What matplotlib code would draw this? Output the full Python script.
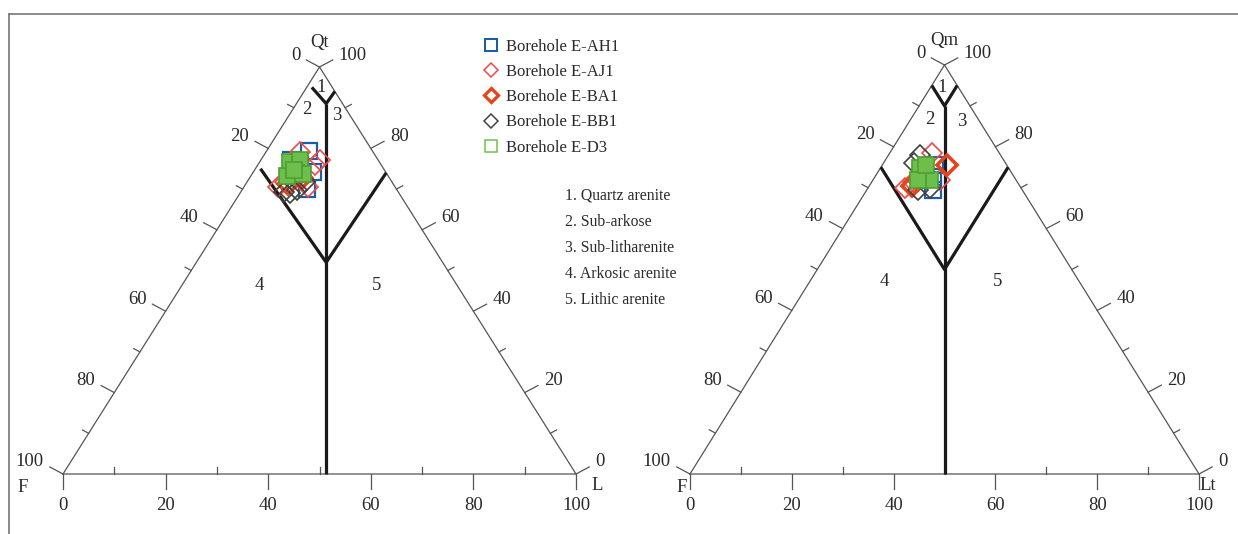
import numpy as np
import matplotlib
matplotlib.use('Agg')
import matplotlib.pyplot as plt
from matplotlib.lines import Line2D

plt.rcParams['font.family'] = ['Liberation Serif', 'DejaVu Serif']

# ternary data, percent (Q = quartz apex, L = lithic corner; F is the rest)
# left diagram: Qt-F-L
qfl_ah1_q = [79.4, 70.0, 77.1, 74.2, 75.9]
qfl_ah1_l = [8.3, 12.6, 5.9, 11.6, 8.3]
qfl_aj1_q = [70.5, 75.9, 70.5, 79.1, 71.7, 77.1]
qfl_aj1_l = [6.7, 11.2, 12.5, 6.7, 7.4, 11.5]
qfl_ba1_q = [71.3, 72.7, 74.2]
qfl_ba1_l = [8.2, 10.2, 8.1]
qfl_bb1_q = [69.0, 69.8, 69.4, 71.7]
qfl_bb1_l = [9.8, 10.7, 8.4, 11.3]
qfl_d3_q = [76.7, 77.1, 74.0, 73.2, 73.8, 74.6]
qfl_d3_l = [5.9, 7.6, 8.4, 7.1, 9.9, 7.7]

# right diagram: Qm-F-Lt
qmf_ah1_q = [75.6, 69.4, 72.5]
qmf_ah1_l = [10.3, 13.0, 11.5]
qmf_aj1_q = [69.9, 78.5, 71.4, 71.9]
qmf_aj1_l = [7.3, 8.3, 8.1, 13.2]
qmf_ba1_q = [75.6, 70.4]
qmf_ba1_l = [12.7, 8.4]
qmf_bb1_q = [78.0, 69.4, 76.0, 69.9]
qmf_bb1_l = [6.2, 10.1, 6.0, 12.2]
qmf_d3_q = [74.8, 72.0, 71.9, 75.6]
qmf_d3_l = [7.8, 11.2, 8.9, 8.6]

boreholes = ['Borehole E-AH1', 'Borehole E-AJ1', 'Borehole E-BA1',
             'Borehole E-BB1', 'Borehole E-D3']
classes = ['1. Quartz arenite', '2. Sub-arkose', '3. Sub-litharenite',
           '4. Arkosic arenite', '5. Lithic arenite']

# classification field boundaries (Q, L) in percent
left_fields = [
    [(0, 51.3), (91, 5.8)],
    [(95, 1.0), (91, 5.8), (94, 6.0)],
    [(75, 1.0), (52, 25.3), (74, 26.0)],
]
right_fields = [
    [(0, 50.0), (90, 5.0)],
    [(95, 0.0), (90, 5.0), (95, 5.0)],
    [(75, 0.0), (50, 25.0), (75, 25.0)],
]

tick_vals = list(range(0, 101, 10))

W, H = 1238, 534
fig = plt.figure(figsize=(W / 100, H / 100), dpi=100)

# outer frame lines (top and left)
fig.add_artist(Line2D([9 / W, 1], [1 - 14 / H, 1 - 14 / H], color='#777777', lw=1.2))
fig.add_artist(Line2D([9 / W, 9 / W], [0, 1 - 14 / H], color='#777777', lw=1.2))

TXT = '#2a2a2a'
FS = 13.5


def tern(q, l):
    q = np.asarray(q, float)
    l = np.asarray(l, float)
    return l / 100 + q / 200, q / 100


styles = [
    dict(marker='s', ms=12, mfc='none', mec='#1b5ea8', mew=1.6),
    dict(marker='D', ms=10.5, mfc='none', mec='#f04848', mew=1.2),
    dict(marker='D', ms=10.5, mfc='none', mec='#e4441c', mew=2.6),
    dict(marker='D', ms=10.5, mfc='none', mec='#404040', mew=1.2),
    dict(marker='s', ms=12, mfc='#6cbf4a', mec='#4f9e35', mew=1.2),
]


def draw_diagram(px0, py0, pw, ph, top_lbl, right_lbl, series, fields, zones):
    ax = fig.add_axes([px0 / W, 1 - py0 / H, pw / W, ph / H])
    ax.set_xlim(0, 1)
    ax.set_ylim(0, 1)
    ax.axis('off')

    def off(x, y, dx, dy):
        # pixel offset (dy down positive) -> data coords
        return x + dx / pw, y - dy / ph

    ec = '#555555'
    ax.plot([0, 1, 0.5, 0], [0, 0, 1, 0], color=ec, lw=0.9, clip_on=False)

    for v in tick_vals:
        major = v % 20 == 0
        # bottom axis
        x, y = v / 100, 0
        if major:
            x2, y2 = off(x, y, 0, 15)
            ax.text(x, y - 31 / ph, str(v), ha='center', va='center', fontsize=FS, color=TXT)
        else:
            x2, y2 = off(x, y, 0, -7)
        ax.plot([x, x2], [y, y2], color=ec, lw=0.9, clip_on=False)
        # left edge (F %)
        x, y = tern(100 - v, 0)
        n = 15 if major else 7
        x2, y2 = off(x, y, -0.88 * n, -0.47 * n)
        ax.plot([x, x2], [y, y2], color=ec, lw=0.9, clip_on=False)
        if major:
            tx, ty = off(x, y, -19, -12)
            ax.text(tx, ty, str(v), ha='right', va='center', fontsize=FS, color=TXT)
        # right edge (Q %)
        x, y = tern(v, 100 - v)
        x2, y2 = off(x, y, 0.88 * n, -0.47 * n)
        ax.plot([x, x2], [y, y2], color=ec, lw=0.9, clip_on=False)
        if major:
            tx, ty = off(x, y, 19, -12)
            ax.text(tx, ty, str(v), ha='left', va='center', fontsize=FS, color=TXT)

    # corner labels
    tx, ty = off(0.5, 1, 0, -24)
    ax.text(tx, ty, top_lbl, ha='center', va='center', fontsize=FS, color=TXT)
    tx, ty = off(0, 0, -40, 13) if right_lbl == 'L' else off(0, 0, -8, 14)
    ax.text(tx, ty, 'F', ha='center', va='center', fontsize=FS, color=TXT)
    tx, ty = off(1, 0, 21, 11) if right_lbl == 'L' else off(1, 0, 9, 12)
    ax.text(tx, ty, right_lbl, ha='center', va='center', fontsize=FS, color=TXT)

    # field boundaries
    for seg in fields:
        qs = [p[0] for p in seg]
        ls = [p[1] for p in seg]
        x, y = tern(qs, ls)
        ax.plot(x, y, color='#1a1a1a', lw=2.3, solid_capstyle='butt', clip_on=False)

    for lbl, (zx, zy) in zones.items():
        ax.text((zx - px0) / pw, (py0 - zy) / ph, lbl, ha='center', va='center',
                fontsize=FS, color=TXT)

    for (q, l), st in zip(series, styles):
        x, y = tern(q, l)
        ax.plot(x, y, ls='none', clip_on=False, **st)
    return ax


draw_diagram(63, 474, 513, 407, 'Qt', 'L',
             [(qfl_ah1_q, qfl_ah1_l), (qfl_aj1_q, qfl_aj1_l), (qfl_ba1_q, qfl_ba1_l),
              (qfl_bb1_q, qfl_bb1_l), (qfl_d3_q, qfl_d3_l)],
             left_fields,
             {'1': (321, 87), '2': (307, 110), '3': (337, 115), '4': (259, 285), '5': (377, 285)})

draw_diagram(690, 474, 509, 409, 'Qm', 'Lt',
             [(qmf_ah1_q, qmf_ah1_l), (qmf_aj1_q, qmf_aj1_l), (qmf_ba1_q, qmf_ba1_l),
              (qmf_bb1_q, qmf_bb1_l), (qmf_d3_q, qmf_d3_l)],
             right_fields,
             {'1': (942, 88), '2': (930, 120), '3': (962, 122), '4': (884, 282), '5': (998, 282)})

# legend
handles = []
for st in styles:
    s = dict(st)
    s['mfc'] = 'none'
    if s['mec'] == '#4f9e35':
        s['mec'] = '#6cbf4a'
    s['ms'] = s['ms'] * 0.7
    s['mew'] = s['mew'] * 0.9
    handles.append(Line2D([], [], ls='none', **s))
fig.legend(handles, boreholes, loc='upper left', bbox_to_anchor=(483 / W, 1 - 39 / H),
           frameon=False, fontsize=12, handlelength=1.0, handletextpad=0.35,
           labelspacing=0.55, borderpad=0, borderaxespad=0, labelcolor=TXT)

for i, c in enumerate(classes):
    fig.text(565 / W, 1 - (196 + 26 * i) / H, c, ha='left', va='center',
             fontsize=11.3, color=TXT)

fig.savefig('out.png', dpi=100)
